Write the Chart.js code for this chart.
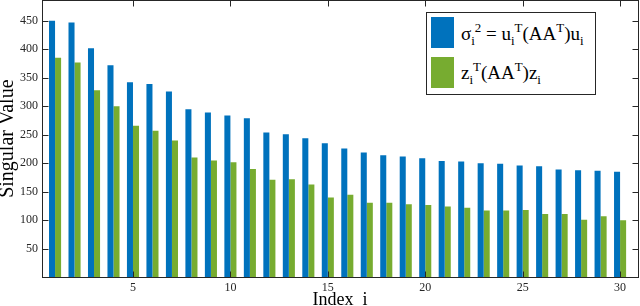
<!DOCTYPE html>
<html>
<head>
<meta charset="utf-8">
<script src="https://cdn.jsdelivr.net/npm/chart.js@4"></script>
<style>
  body { margin: 0; background: #fff; }
  #wrap { position: relative; width: 640px; height: 306px; overflow: hidden; }
  #chart { position: absolute; left: 0; top: 0; }
  #legend {
    position: absolute; left: 426px; top: 12px; width: 170px; height: 83px;
    box-sizing: border-box; border: 1px solid #262626; background: #fff;
    font-family: 'Liberation Serif', 'DejaVu Serif', serif; font-size: 19px; color: #000;
  }
  .sw { position: absolute; left: 4px; width: 23px; height: 31px; }
  .lbl { position: absolute; left: 34px; white-space: nowrap; line-height: 20px; }
  .lbl sub, .lbl sup { font-size: 0.68em; line-height: 0; position: relative; vertical-align: baseline; }
  .lbl sub { top: 0.35em; }
  .lbl sup { top: -0.6em; }
</style>
</head>
<body>
<div id="wrap">
  <canvas id="chart" width="640" height="306"></canvas>
  <div id="legend">
    <div class="sw" id="sw0" style="top:4px"></div>
    <div class="lbl" id="lbl0" style="top:11px"></div>
    <div class="sw" id="sw1" style="top:44px"></div>
    <div class="lbl" id="lbl1" style="top:50px"></div>
  </div>
</div>
<script>
// datos
const indices = [1, 2, 3, 4, 5, 6, 7, 8, 9, 10, 11, 12, 13, 14, 15, 16, 17, 18, 19, 20, 21, 22, 23, 24, 25, 26, 27, 28, 29, 30];
const sigmaSq = [450, 447, 402, 372, 342, 339, 326, 295, 289, 284, 279, 254, 251, 244, 235, 226, 219, 214, 212, 209, 204, 203, 200, 199, 196, 195, 189, 188, 187, 185];
const zProj = [385, 377, 328, 300, 266, 257, 240, 210, 205, 202, 190, 171, 172, 163, 140, 145, 131, 131, 128, 127, 124, 122, 117, 117, 118, 111, 111, 101, 107, 100];
const xTicks = [5, 10, 15, 20, 25, 30];
const yTicks = [50, 100, 150, 200, 250, 300, 350, 400, 450];
const seriesLabels = [
    '\u03c3<sub>i</sub><sup>2</sup> = u<sub>i</sub><sup>T</sup>(AA<sup>T</sup>)u<sub>i</sub>',
    'z<sub>i</sub><sup>T</sup>(AA<sup>T</sup>)z<sub>i</sub>'
];
const seriesColors = ['#0072BD', '#77AC30'];

const axisColor = '#262626';
const tickLen = 6;

// caja de ejes estilo matlab con ticks hacia dentro
const axesBox = {
    id: 'axesBox',
    afterDatasetsDraw(chart) {
        const {ctx, chartArea: a, scales: {x, y}} = chart;
        const l = Math.round(a.left) + 0.5, r = Math.round(a.right) + 0.5;
        const t = Math.round(a.top) + 0.5, b = Math.round(a.bottom) + 0.5;
        ctx.save();
        ctx.strokeStyle = axisColor;
        ctx.lineWidth = 1;
        ctx.beginPath();
        xTicks.forEach(v => {
            const px = Math.round(x.getPixelForValue(v)) + 0.5;
            ctx.moveTo(px, b); ctx.lineTo(px, b - tickLen);
            ctx.moveTo(px, t); ctx.lineTo(px, t + tickLen);
        });
        yTicks.forEach(v => {
            const py = Math.round(y.getPixelForValue(v)) + 0.5;
            ctx.moveTo(l, py); ctx.lineTo(l + tickLen, py);
            ctx.moveTo(r, py); ctx.lineTo(r - tickLen, py);
        });
        ctx.stroke();
        ctx.strokeRect(l, t, r - l, b - t);
        ctx.restore();
    }
};

Chart.defaults.font.family = "'Liberation Serif', 'DejaVu Serif', serif";
Chart.defaults.color = axisColor;

var ctx = document.getElementById('chart').getContext('2d');
var chart = new Chart(ctx, {
    type: 'bar',
    data: {
        datasets: [{
            label: 'sigma_i^2',
            data: indices.map((v, i) => ({x: v, y: sigmaSq[i]})),
            backgroundColor: seriesColors[0],
            borderWidth: 0
        }, {
            label: 'z_i^T(AA^T)z_i',
            data: indices.map((v, i) => ({x: v, y: zProj[i]})),
            backgroundColor: seriesColors[1],
            borderWidth: 0
        }]
    },
    options: {
        responsive: false,
        animation: false,
        devicePixelRatio: 1,
        categoryPercentage: 0.62,
        barPercentage: 1,
        layout: { padding: { right: 2 } },
        plugins: {
            legend: { display: false },
            tooltip: { enabled: false }
        },
        scales: {
            x: {
                type: 'linear',
                min: 0.33,
                max: 30.92,
                offset: false,
                grid: { display: false, drawTicks: false },
                border: { display: false },
                ticks: { font: { size: 12 }, padding: 3, maxRotation: 0 },
                afterBuildTicks: s => { s.ticks = xTicks.map(v => ({value: v})); },
                afterFit: s => { s.height = 28.7; s.paddingLeft = 0; s.paddingRight = 0; },
                title: {
                    display: true,
                    text: 'Index  i',
                    font: { size: 18, lineHeight: 0.67 },
                    padding: 0,
                    color: '#000'
                }
            },
            y: {
                min: 0,
                max: 486.5,
                grid: { display: false, drawTicks: false },
                border: { display: false },
                ticks: { font: { size: 12 }, padding: 4 },
                afterBuildTicks: s => { s.ticks = yTicks.map(v => ({value: v})); },
                afterFit: s => { s.width = 42; s.paddingTop = 0; s.paddingBottom = 0; },
                title: {
                    display: true,
                    text: 'Singular Value',
                    font: { size: 20, lineHeight: 0.8 },
                    padding: 0,
                    color: '#000'
                }
            }
        }
    },
    plugins: [axesBox]
});

// leyenda con subindices y superindices
seriesLabels.forEach((html, i) => {
    document.getElementById('sw' + i).style.background = seriesColors[i];
    document.getElementById('lbl' + i).innerHTML = html;
});
</script>
</body>
</html>
